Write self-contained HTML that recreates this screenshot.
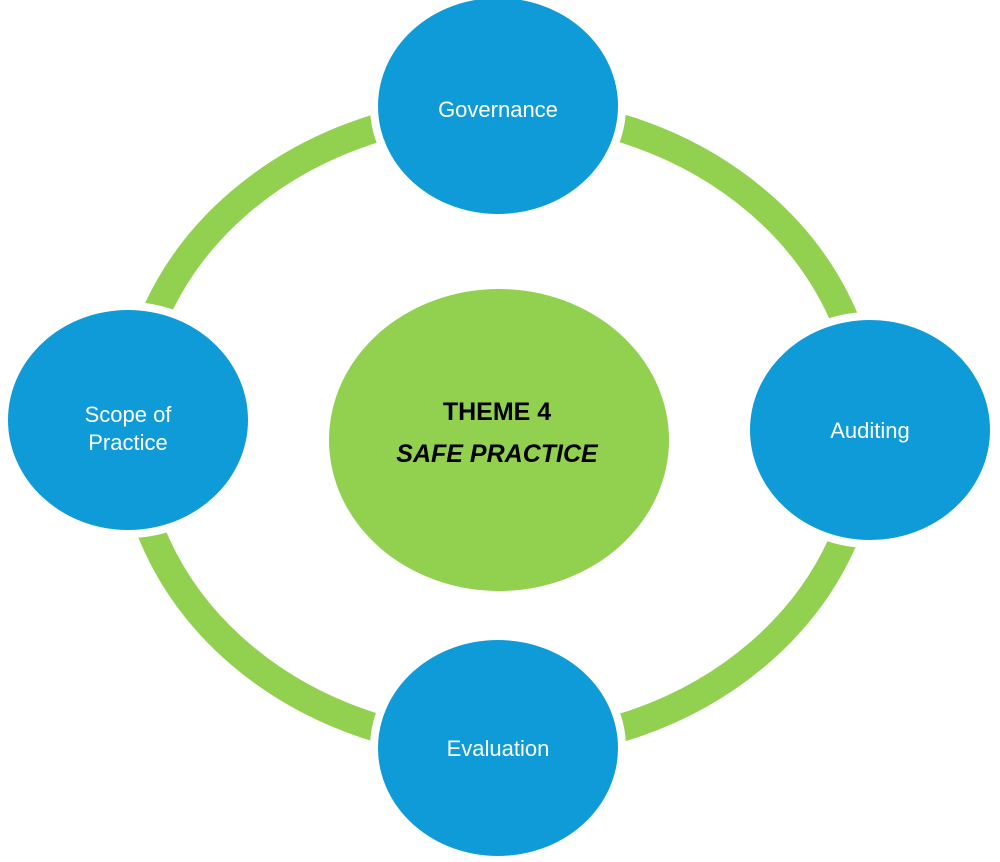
<!DOCTYPE html>
<html><head><style>html,body{margin:0;padding:0;background:#fff}</style></head><body>
<svg width="1000" height="862" viewBox="0 0 1000 862" xmlns="http://www.w3.org/2000/svg" style="display:block">
<ellipse cx="499" cy="428" rx="368" ry="318" fill="none" stroke="#92D050" stroke-width="28"/>
<g fill="#0F9BD7" stroke="#fff" stroke-width="8">
<ellipse cx="498" cy="106" rx="124" ry="112"/>
<ellipse cx="128" cy="420" rx="124" ry="114"/>
<ellipse cx="870" cy="430" rx="124" ry="114"/>
<ellipse cx="498" cy="748" rx="124" ry="112"/>
</g>
<ellipse cx="499" cy="440" rx="170" ry="151" fill="#92D050"/>
<g font-family="Liberation Sans, sans-serif" font-size="22" fill="#fff" text-anchor="middle">
<text x="498" y="117">Governance</text>
<text x="128" y="422">Scope of</text>
<text x="128" y="450">Practice</text>
<text x="870" y="438">Auditing</text>
<text x="498" y="756">Evaluation</text>
</g>
<g font-family="Liberation Sans, sans-serif" font-size="25" font-weight="bold" fill="#000" text-anchor="middle">
<text x="497" y="420">THEME 4</text>
<text x="497" y="462" font-style="italic">SAFE PRACTICE</text>
</g>
</svg>
</body></html>
